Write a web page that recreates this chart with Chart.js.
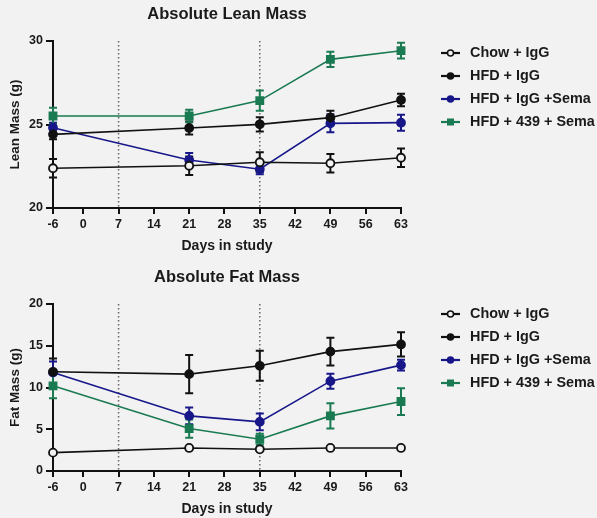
<!DOCTYPE html>
<html>
<head>
<meta charset="utf-8">
<script src="https://cdn.jsdelivr.net/npm/chart.js@4/dist/chart.umd.min.js"></script>
<style>
  html, body { margin: 0; padding: 0; background: #f2f2f2; }
  #wrap { position: relative; width: 597px; height: 518px; background: #f2f2f2; }
  canvas { position: absolute; left: 0; }
  #c1 { top: 0; }
  #c2 { top: 260px; }
</style>
</head>
<body>
<div id="wrap">
  <canvas id="c1" width="597" height="260"></canvas>
  <canvas id="c2" width="597" height="258"></canvas>
</div>
<script>
// ---- data ----
const days = [-6, 21, 35, 49, 63];
const xTicks = [-6, 0, 7, 14, 21, 28, 35, 42, 49, 56, 63];
const treatmentDays = [7, 35];
const seriesNames = ['Chow + IgG', 'HFD + IgG', 'HFD + IgG +Sema', 'HFD + 439 + Sema'];

const leanTicks = [20, 25, 30];
const leanChow = [22.38, 22.53, 22.74, 22.68, 23.01];
const leanChowErr = [0.55, 0.55, 0.6, 0.55, 0.55];
const leanHfd = [24.41, 24.79, 25.01, 25.41, 26.47];
const leanHfdErr = [0.3, 0.39, 0.43, 0.42, 0.37];
const leanSema = [24.81, 22.87, 22.32, 25.07, 25.11];
const leanSemaErr = [0.3, 0.42, 0.3, 0.54, 0.48];
const lean439 = [25.51, 25.51, 26.43, 28.9, 29.42];
const lean439Err = [0.5, 0.38, 0.6, 0.45, 0.47];

const fatTicks = [0, 5, 10, 15, 20];
const fatChow = [2.2, 2.76, 2.6, 2.76, 2.76];
const fatChowErr = [0.12, 0.12, 0.12, 0.12, 0.12];
const fatHfd = [11.88, 11.6, 12.6, 14.3, 15.16];
const fatHfdErr = [1.6, 2.3, 1.8, 1.66, 1.46];
const fatSema = [11.8, 6.6, 5.88, 10.76, 12.68];
const fatSemaErr = [1.3, 1.0, 1.0, 0.9, 0.65];
const fat439 = [10.2, 5.08, 3.8, 6.6, 8.32];
const fat439Err = [1.5, 1.1, 0.65, 1.5, 1.6];

// ---- styles ----
const BG = '#f2f2f2';
const BLACK = '#111111';
const BLUE = '#17178a';
const GREEN = '#1a7a52';
const FONT = "'Liberation Sans', Arial, Helvetica, sans-serif";
Chart.defaults.font.family = FONT;

function makeDatasets(values, errs) {
  const styles = [
    { color: BLACK, fill: BG, shape: 'circle', r: 4 },
    { color: BLACK, fill: BLACK, shape: 'circle', r: 4 },
    { color: BLUE, fill: BLUE, shape: 'circle', r: 4 },
    { color: GREEN, fill: GREEN, shape: 'rect', r: 5 }
  ];
  return values.map((vals, i) => ({
    label: seriesNames[i],
    data: days.map((d, j) => ({ x: d, y: vals[j] })),
    errors: errs[i],
    borderColor: styles[i].color,
    backgroundColor: styles[i].fill,
    pointBorderColor: styles[i].color,
    pointBackgroundColor: styles[i].fill,
    pointStyle: styles[i].shape,
    pointRadius: styles[i].r,
    pointBorderWidth: 1.8,
    borderWidth: 1.6,
    tension: 0,
    clip: false
  }));
}

const errorBarPlugin = {
  id: 'errorBars',
  beforeDatasetsDraw(chart) {
    const ctx = chart.ctx;
    const xs = chart.scales.x, ys = chart.scales.y;
    chart.data.datasets.forEach((ds) => {
      ctx.save();
      ctx.strokeStyle = ds.borderColor;
      ctx.lineWidth = 2;
      ds.data.forEach((p, j) => {
        const e = ds.errors[j];
        const px = xs.getPixelForValue(p.x);
        const top = ys.getPixelForValue(p.y + e);
        const bot = ys.getPixelForValue(p.y - e);
        ctx.beginPath();
        ctx.moveTo(px, top); ctx.lineTo(px, bot);
        ctx.moveTo(px - 4, top); ctx.lineTo(px + 4, top);
        ctx.moveTo(px - 4, bot); ctx.lineTo(px + 4, bot);
        ctx.stroke();
      });
      ctx.restore();
    });
  }
};

const vlinePlugin = {
  id: 'vlines',
  beforeDatasetsDraw(chart) {
    const ctx = chart.ctx;
    const xs = chart.scales.x;
    const a = chart.chartArea;
    ctx.save();
    ctx.strokeStyle = '#6b6b6b';
    ctx.lineWidth = 1.6;
    ctx.setLineDash([1.6, 2.4]);
    treatmentDays.forEach(d => {
      const px = xs.getPixelForValue(d);
      ctx.beginPath();
      ctx.moveTo(px, a.top);
      ctx.lineTo(px, a.bottom);
      ctx.stroke();
    });
    ctx.restore();
  }
};

const textPlugin = {
  id: 'texts',
  afterDraw(chart, args, opts) {
    const ctx = chart.ctx;
    const a = chart.chartArea;
    const cx = (a.left + a.right) / 2;
    ctx.save();
    ctx.fillStyle = '#1a1a1a';
    ctx.textAlign = 'center';
    ctx.textBaseline = 'middle';
    ctx.font = 'bold 16.5px ' + FONT;
    ctx.fillText(opts.title, cx, opts.titleY);
    ctx.font = 'bold 14px ' + FONT;
    ctx.fillText(opts.xTitle, cx, a.bottom + 38);
    ctx.save();
    ctx.font = 'bold 13.5px ' + FONT;
    ctx.translate(15, (a.top + a.bottom) / 2);
    ctx.rotate(-Math.PI / 2);
    ctx.fillText(opts.yTitle, 0, 0);
    ctx.restore();
    // legend
    ctx.textAlign = 'left';
    ctx.font = 'bold 14.4px ' + FONT;
    chart.data.datasets.forEach((ds, i) => {
      const y = opts.legendY + i * 23;
      ctx.strokeStyle = ds.borderColor;
      ctx.lineWidth = 2.2;
      ctx.beginPath();
      ctx.moveTo(441, y); ctx.lineTo(460, y);
      ctx.stroke();
      ctx.fillStyle = ds.backgroundColor;
      ctx.lineWidth = 1.5;
      if (ds.pointStyle === 'rect') {
        ctx.fillRect(447, y - 3.5, 7, 7);
      } else {
        ctx.beginPath();
        ctx.arc(450.5, y, 3, 0, Math.PI * 2);
        ctx.fill();
        ctx.stroke();
      }
      ctx.fillStyle = '#1a1a1a';
      ctx.fillText(ds.label, 470, y + 0.5);
    });
    ctx.restore();
  }
};

function makeChart(id, values, errs, yMin, yMax, yTicks, padTop, xHeight, texts) {
  return new Chart(document.getElementById(id), {
    type: 'line',
    data: { datasets: makeDatasets(values, errs) },
    plugins: [vlinePlugin, errorBarPlugin, textPlugin],
    options: {
      responsive: false,
      devicePixelRatio: 1,
      animation: false,
      layout: { padding: { top: padTop, right: 196, bottom: 0, left: 0 } },
      plugins: {
        legend: { display: false },
        tooltip: { enabled: false },
        title: { display: false },
        texts: texts
      },
      scales: {
        x: {
          type: 'linear',
          min: -6, max: 63,
          afterBuildTicks: s => { s.ticks = xTicks.map(v => ({ value: v })); },
          afterFit: s => { s.height = xHeight; },
          grid: { drawOnChartArea: false, drawTicks: true, tickLength: 6, color: BLACK, lineWidth: 2 },
          border: { display: true, color: BLACK, width: 2 },
          ticks: { color: '#1a1a1a', font: { size: 12.5, weight: 'bold' }, padding: 3, maxRotation: 0, autoSkip: false }
        },
        y: {
          min: yMin, max: yMax,
          afterBuildTicks: s => { s.ticks = yTicks.map(v => ({ value: v })); },
          afterFit: s => { s.width = 53; },
          grid: { drawOnChartArea: false, drawTicks: true, tickLength: 7, color: BLACK, lineWidth: 2 },
          border: { display: true, color: BLACK, width: 2 },
          ticks: { color: '#1a1a1a', font: { size: 12.5, weight: 'bold' }, padding: 3 }
        }
      }
    }
  });
}

makeChart('c1', [leanChow, leanHfd, leanSema, lean439], [leanChowErr, leanHfdErr, leanSemaErr, lean439Err],
  20, 30, leanTicks, 41, 52,
  { title: 'Absolute Lean Mass', titleY: 14, xTitle: 'Days in study', yTitle: 'Lean Mass (g)', legendY: 53 });

makeChart('c2', [fatChow, fatHfd, fatSema, fat439], [fatChowErr, fatHfdErr, fatSemaErr, fat439Err],
  0, 20, fatTicks, 44, 47,
  { title: 'Absolute Fat Mass', titleY: 17, xTitle: 'Days in study', yTitle: 'Fat Mass (g)', legendY: 54 });
</script>
</body>
</html>
